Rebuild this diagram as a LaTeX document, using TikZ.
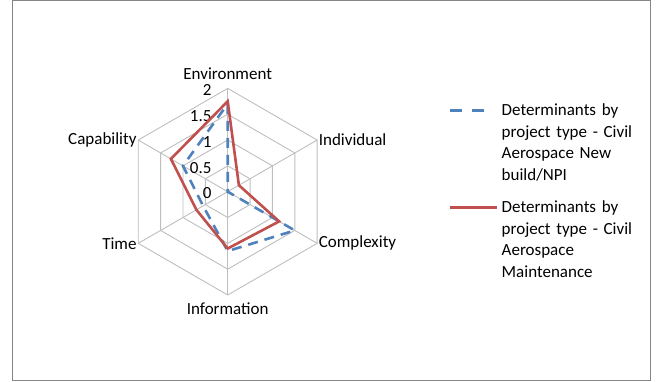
\documentclass[tikz,border=0pt]{standalone}
\usepackage{fontspec}
\setmainfont{Carlito}
\usetikzlibrary{positioning}
\definecolor{seriesblue}{RGB}{79,129,189}
\definecolor{seriesred}{RGB}{192,80,77}
\definecolor{gridgray}{RGB}{190,190,190}
\definecolor{framegray}{RGB}{134,134,134}

\begin{document}
\begin{tikzpicture}[
        x=1pt, y=1pt,
        grid/.style={draw=gridgray, line width=0.9pt},
        catlabel/.style={font=\fontsize{17}{20}\selectfont, inner sep=0.5pt},
        ticklabel/.style={font=\fontsize{17}{20}\selectfont, anchor=east, inner sep=0pt},
        blueline/.style={draw=seriesblue, line width=2.6pt, dash pattern=on 10pt off 7pt},
        redline/.style={draw=seriesred, line width=2.6pt, line join=miter},
        legtext/.style={font=\fontsize{17}{21.5}\selectfont, text width=150pt, align=left, anchor=north west, inner sep=0pt}
    ]
        \useasboundingbox (0,0) rectangle (658,382);
        % Chart frame
        \draw[framegray, line width=1pt] (12,1) rectangle (650,381.5);

        \coordinate (centre) at (227.7,190.3);
        \begin{scope}[shift={(centre)}, x=51.65pt, y=51.65pt]
            % Axis ends
            \foreach \a/\n in {90/env, 30/ind, -30/cpx, -90/inf, -150/tim, 150/cap}
                \coordinate (\n) at (\a:2);

            % Web rings and spokes
            \foreach \v in {0.5,1,1.5,2}
                \draw[grid] (90:\v) -- (30:\v) -- (-30:\v) -- (-90:\v) -- (-150:\v) -- (150:\v) -- cycle;
            \foreach \n in {env,ind,cpx,inf,tim,cap}
                \draw[grid] (0,0) -- (\n);

            % Scale values
            \foreach \v [count=\i] in {0,0.5,1,1.5,2}
                \node[ticklabel] (tick\i) at (-0.31,\v-0.035) {\v};

            % Series: Civil Aerospace New build/NPI
            \coordinate (b1) at (90:1.7);
            \coordinate (b2) at (30:0);
            \coordinate (b3) at (-30:1.5);
            \coordinate (b4) at (-90:1.15);
            \coordinate (b5) at (-150:0.55);
            \coordinate (b6) at (150:1.0);
            \draw[blueline] (b1) -- (b2) -- (b3) -- (b4) -- (b5) -- (b6) -- cycle;

            % Series: Civil Aerospace Maintenance
            \coordinate (r1) at (90:1.75);
            \coordinate (r2) at (30:0.25);
            \coordinate (r3) at (-30:1.15);
            \coordinate (r4) at (-90:1.1);
            \coordinate (r5) at (-150:0.7);
            \coordinate (r6) at (150:1.27);
            \draw[redline] (r1) -- (r2) -- (r3) -- (r4) -- (r5) -- (r6) -- cycle;
        \end{scope}

        % Category labels
        \node[catlabel, above=8.5pt of env] (envlabel) {Environment};
        \node[catlabel, right=1pt of ind] (indlabel) {Individual};
        \node[catlabel, right=1pt of cpx] (cpxlabel) {Complexity};
        \node[catlabel, below=7pt of inf] (inflabel) {Information};
        \node[catlabel, left=1pt of tim] (timlabel) {Time};
        \node[catlabel, left=1pt of cap] (caplabel) {Capability};

        % Legend
        \coordinate (lgb1) at (450,271.3);
        \coordinate (lgb2) at (484,271.3);
        \draw[blueline, dash pattern=on 12pt off 10pt] (lgb1) -- (lgb2);
        \node[legtext] (lgbtext) at (501.5,278) {Determinants by\\project type - Civil\\Aerospace New\\build/NPI};

        \coordinate (lgr1) at (450,174.3);
        \coordinate (lgr2) at (497,174.3);
        \draw[redline] (lgr1) -- (lgr2);
        \node[legtext] (lgrtext) at (501.5,181) {Determinants by\\project type - Civil\\Aerospace\\Maintenance};
\end{tikzpicture}
\end{document}
